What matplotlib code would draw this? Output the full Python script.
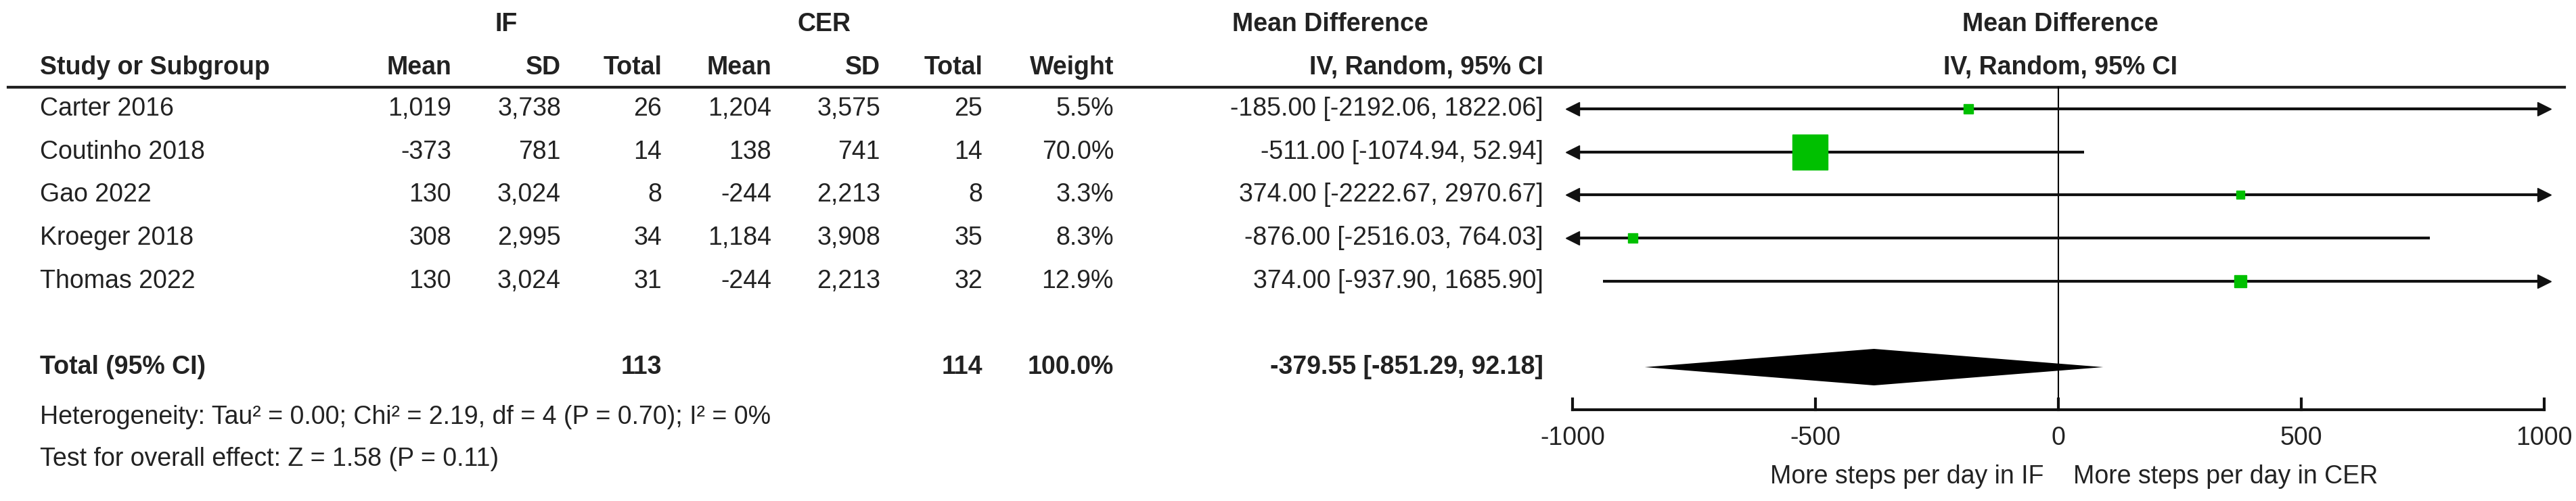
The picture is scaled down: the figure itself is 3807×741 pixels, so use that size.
import matplotlib.pyplot as plt
import numpy as np

studies = ["Carter 2016", "Coutinho 2018", "Gao 2022", "Kroeger 2018", "Thomas 2022"]
if_mean = ["1,019", "-373", "130", "308", "130"]
if_sd = ["3,738", "781", "3,024", "2,995", "3,024"]
if_n = ["26", "14", "8", "34", "31"]
cer_mean = ["1,204", "138", "-244", "1,184", "-244"]
cer_sd = ["3,575", "741", "2,213", "3,908", "2,213"]
cer_n = ["25", "14", "8", "35", "32"]
weights = [5.5, 70.0, 3.3, 8.3, 12.9]
md = [-185.00, -511.00, 374.00, -876.00, 374.00]
lo = [-2192.06, -1074.94, -2222.67, -2516.03, -937.90]
hi = [1822.06, 52.94, 2970.67, 764.03, 1685.90]
total = {"if_n": "113", "cer_n": "114", "w": "100.0%", "md": -379.55, "lo": -851.29, "hi": 92.18}
ticks = [-1000, -500, 0, 500, 1000]

W, H = 3807, 741
fig = plt.figure(figsize=(W / 100, H / 100), dpi=100)
plt.rcParams['font.family'] = ['Liberation Sans', 'DejaVu Sans']
ax = fig.add_axes([0, 0, 1, 1])
ax.set_xlim(0, W)
ax.set_ylim(H, 0)
ax.axis('off')

fs = 27
col = '#222222'
row_y = [161, 225, 288, 352, 416]
tot_y = 543

# headers
ax.text(748, 36, "IF", ha='center', va='center', fontsize=fs, fontweight='bold', color=col)
ax.text(1218, 36, "CER", ha='center', va='center', fontsize=fs, fontweight='bold', color=col)
ax.text(1966, 36, "Mean Difference", ha='center', va='center', fontsize=fs, fontweight='bold', color=col)
ax.text(3045, 36, "Mean Difference", ha='center', va='center', fontsize=fs, fontweight='bold', color=col)
ax.text(3045, 100, "IV, Random, 95% CI", ha='center', va='center', fontsize=fs, fontweight='bold', color=col)
ax.text(59, 100, "Study or Subgroup", ha='left', va='center', fontsize=fs, fontweight='bold', color=col)
cols_x = [667, 829, 978, 1140, 1301, 1452, 1646, 2281]
heads = ["Mean", "SD", "Total", "Mean", "SD", "Total", "Weight", "IV, Random, 95% CI"]
for x, h in zip(cols_x, heads):
    ax.text(x, 100, h, ha='right', va='center', fontsize=fs, fontweight='bold', color=col)
ax.plot([12, 3790], [129, 129], color='#222222', lw=3)

for i, s in enumerate(studies):
    y = row_y[i]
    vals = [if_mean[i], if_sd[i], if_n[i], cer_mean[i], cer_sd[i], cer_n[i],
            f"{weights[i]:.1f}%", f"{md[i]:.2f} [{lo[i]:.2f}, {hi[i]:.2f}]"]
    ax.text(59, y, s, ha='left', va='center', fontsize=fs, color=col)
    for x, v in zip(cols_x, vals):
        ax.text(x, y, v, ha='right', va='center', fontsize=fs, color=col)

ax.text(59, tot_y, "Total (95% CI)", ha='left', va='center', fontsize=fs, fontweight='bold', color=col)
for x, v in [(978, total["if_n"]), (1452, total["cer_n"]), (1646, total["w"]),
             (2281, f"{total['md']:.2f} [{total['lo']:.2f}, {total['hi']:.2f}]")]:
    ax.text(x, tot_y, v, ha='right', va='center', fontsize=fs, fontweight='bold', color=col)
ax.text(59, 617, "Heterogeneity: Tau² = 0.00; Chi² = 2.19, df = 4 (P = 0.70); I² = 0%",
        ha='left', va='center', fontsize=fs, color=col)
ax.text(59, 679, "Test for overall effect: Z = 1.58 (P = 0.11)",
        ha='left', va='center', fontsize=fs, color=col)

# forest panel
x0, x1 = 2324, 3760
fx = fig.add_axes([x0 / W, 0, (x1 - x0) / W, 1])
fx.set_xlim(-1000, 1000)
fx.set_ylim(H, 0)
fx.axis('off')
fx.patch.set_alpha(0)

fx.plot([0, 0], [129, 606], color='black', lw=1.5, clip_on=False)
lim = 1000
for i in range(len(studies)):
    y = row_y[i]
    a, b = max(lo[i], -lim), min(hi[i], lim)
    fx.plot([a, b], [y, y], color='#111111', lw=3, clip_on=False, solid_capstyle='butt')
    if lo[i] < -lim:
        fx.plot([-lim], [y], marker='<', color='#111111', ms=14, clip_on=False)
    if hi[i] > lim:
        fx.plot([lim], [y], marker='>', color='#111111', ms=14, clip_on=False)
    size = 7 + 31 * weights[i] / max(weights)
    fx.plot([md[i]], [y], marker='s', color='#00C000', ms=size, mec='#00C000', clip_on=False)

fx.fill([total["lo"], total["md"], total["hi"], total["md"]],
        [tot_y, tot_y - 27, tot_y, tot_y + 27], color='black', lw=0)

fx.plot([-1000, 1000], [606, 606], color='#111111', lw=3, clip_on=False)
for t in ticks:
    fx.plot([t, t], [590, 606], color='#111111', lw=3, clip_on=False)
    fx.text(t, 648, f"{t}", ha='center', va='center', fontsize=fs, color=col)
fx.text(-30, 705, "More steps per day in IF", ha='right', va='center', fontsize=fs, color=col)
fx.text(30, 705, "More steps per day in CER", ha='left', va='center', fontsize=fs, color=col)

fig.savefig("out.png", dpi=100)
